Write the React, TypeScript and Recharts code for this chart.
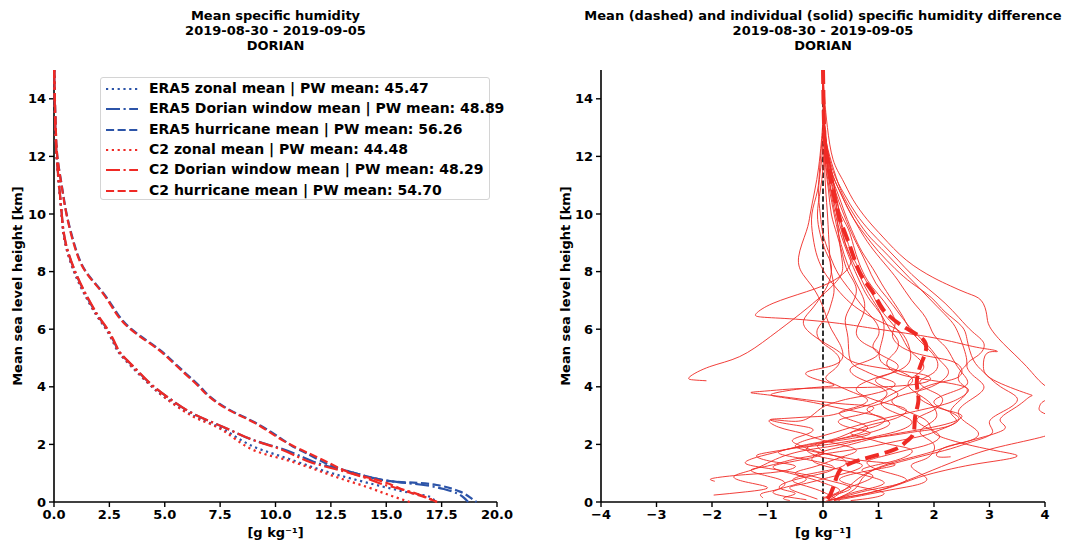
import React from 'react';
import { ScatterChart, Scatter, XAxis, YAxis, ReferenceLine } from 'recharts';

type Pt = [number, number];

const FONT = '"DejaVu Sans", Verdana, sans-serif';
const BLUE = '#2c54a8';
const RED = '#ef2a25';

// ---------- left panel: mean specific humidity [g/kg] vs height [km] ----------
const era5Zonal: Pt[] = [[0.01,15],[0.03,14],[0.06,13],[0.12,12],[0.22,11],[0.34,10],[0.5,9],[0.9,8],[1.35,7.25],[1.9,6.5],[2.35,6],[2.7,5.5],[2.95,5.16],[3.5,4.7],[4.25,4.12],[4.95,3.66],[5.85,3.19],[6.7,2.85],[7.7,2.5],[8.85,1.98],[10.2,1.6],[11.6,1.23],[13.0,0.9],[14.87,0.53],[16.2,0.3],[16.97,0.18],[17.2,0]];
const era5Window: Pt[] = [[0.01,15],[0.03,14],[0.06,13],[0.12,12],[0.23,11],[0.35,10],[0.52,9],[0.95,8],[1.4,7.25],[1.95,6.5],[2.4,6],[2.75,5.5],[3.0,5.16],[3.58,4.7],[4.33,4.12],[5.09,3.66],[5.99,3.19],[6.89,2.85],[7.95,2.5],[9.0,2.15],[10.2,1.87],[11.2,1.57],[11.9,1.35],[12.6,1.2],[13.6,1.0],[14.87,0.76],[16.6,0.6],[17.6,0.45],[18.2,0.3],[18.5,0.15],[18.7,0]];
const era5Hurricane: Pt[] = [[0.01,15],[0.04,14],[0.08,13],[0.15,12],[0.35,11],[0.57,10],[0.95,8.87],[1.44,8],[2.23,7.25],[2.9,6.5],[3.5,6],[4.2,5.6],[4.75,5.3],[5.2,5],[5.9,4.5],[6.6,4],[7.04,3.66],[7.95,3.19],[9.15,2.73],[10.35,2.15],[10.8,1.92],[11.4,1.69],[12.46,1.28],[13.6,1.0],[14.87,0.76],[16.0,0.68],[17.28,0.59],[18.33,0.36],[18.8,0.15],[19.08,0]];
const c2Zonal: Pt[] = [[0.01,15],[0.03,14],[0.06,13],[0.12,12],[0.22,11],[0.34,10],[0.5,9],[0.92,8],[1.37,7.25],[1.92,6.5],[2.37,6],[2.72,5.5],[2.97,5.16],[3.52,4.7],[4.27,4.12],[4.95,3.66],[5.8,3.19],[6.6,2.85],[7.6,2.5],[8.85,1.86],[10.3,1.5],[11.86,1.11],[13.0,0.8],[14.1,0.53],[15.1,0.25],[16.07,0]];
const c2Window: Pt[] = [[0.01,15],[0.03,14],[0.06,13],[0.12,12],[0.23,11],[0.35,10],[0.53,9],[0.96,8],[1.42,7.25],[1.97,6.5],[2.42,6],[2.77,5.5],[3.02,5.16],[3.6,4.7],[4.35,4.12],[5.1,3.66],[6.0,3.19],[6.9,2.85],[7.95,2.5],[9.0,2.15],[10.1,1.87],[11.0,1.57],[11.7,1.35],[12.9,1.1],[14.2,0.8],[14.9,0.6],[15.8,0.42],[16.5,0.25],[17.0,0.1],[17.3,0]];
const c2Hurricane: Pt[] = [[0.01,15],[0.04,14],[0.08,13],[0.15,12],[0.34,11],[0.56,10],[0.93,8.87],[1.42,8],[2.2,7.25],[2.85,6.5],[3.45,6],[4.15,5.6],[4.7,5.3],[5.15,5],[5.85,4.5],[6.55,4],[7.0,3.66],[7.9,3.19],[9.1,2.73],[10.3,2.15],[11.5,1.69],[12.3,1.4],[13.06,1.11],[13.9,0.9],[14.87,0.7],[15.77,0.42],[16.2,0.3],[16.8,0.15],[17.3,0]];

const leftLabels = [
  'ERA5 zonal mean | PW mean: 45.47',
  'ERA5 Dorian window mean | PW mean: 48.89',
  'ERA5 hurricane mean | PW mean: 56.26',
  'C2 zonal mean | PW mean: 44.48',
  'C2 Dorian window mean | PW mean: 48.29',
  'C2 hurricane mean | PW mean: 54.70',
];
const leftData = [era5Zonal, era5Window, era5Hurricane, c2Zonal, c2Window, c2Hurricane];
const leftColors = [BLUE, BLUE, BLUE, RED, RED, RED];
const leftDashes = ['2.2 3.6', '14 3.5 2.2 3.5', '8.1 3.5', '2.2 3.6', '14 3.5 2.2 3.5', '8.1 3.5'];

const leftXTicks = [0, 2.5, 5, 7.5, 10, 12.5, 15, 17.5, 20];
const rightXTicks = [-4, -3, -2, -1, 0, 1, 2, 3, 4];
const yTicks = [0, 2, 4, 6, 8, 10, 12, 14];

// ---------- right panel: specific humidity difference [g/kg] vs height [km] ----------
const diffMean: Pt[] = [[0,15],[0.02,13.03],[0.07,11.88],[0.19,10.72],[0.31,9.79],[0.49,8.86],[0.67,7.94],[0.91,7.25],[1.09,6.67],[1.45,6.09],[1.81,5.63],[1.84,5.16],[1.75,4.7],[1.69,4.12],[1.72,3.54],[1.66,2.96],[1.63,2.38],[1.5,2.1],[1.27,1.81],[0.67,1.46],[0.31,1.11],[0.19,0.53],[0.07,0.07],[0,0]];

const diff01: Pt[] = [[0,15],[0.03,13],[0.1,12],[0.2,11],[0.25,10],[0.3,9],[0.35,8.3],[0.3,7.8],[0,7.2],[-0.4,6.55],[-0.95,5.74],[-1.5,5.05],[-2.04,4.7],[-2.4,4.35],[-2.34,4.24],[-2.1,4.21]];
const diff02: Pt[] = [[0,15],[0.03,13],[0.1,12],[0.2,11],[0.3,10],[0.4,9],[0.5,8.3],[0.2,7.7],[-0.3,7.3],[-0.9,6.9],[-1.2,6.55],[-1.1,6.42],[-0.5,6.35],[0.3,6.2],[1.0,6.0],[2.0,5.7],[2.7,5.4],[3.06,5.28],[3.13,5.22],[2.95,5.16],[2.89,4.7],[3.07,4.24],[3.67,3.77],[3.73,3.66],[3.49,3.31],[3.19,2.85],[3.25,2.5],[2.47,2.04],[1.87,1.69],[1.4,1.45],[1.0,1.2],[0.7,0.9],[0.5,0.6],[0.3,0.3],[0.1,0.05]];
const diff03: Pt[] = [[0,15],[0.03,14],[0.08,13],[0.18,11.9],[0.35,11.2],[0.54,10.5],[0.8,9.8],[1.08,9.2],[1.5,8.4],[1.98,7.8],[2.3,7.5],[2.6,7.25],[2.85,7.0],[2.95,6.5],[3.0,6.1],[3.25,5.5],[3.67,4.7],[4.03,4.0],[4.3,3.75],[4.02,3.54],[3.9,3.31],[3.97,3.09],[4.3,2.8],[4.2,2.5],[3.97,2.27],[3.19,1.92],[2.59,1.57],[1.98,1.11],[1.39,0.65],[0.79,0.3],[0.18,0.1],[0.05,0]];
const diff04: Pt[] = [[0,15],[0.02,13.5],[0.05,12.5],[0.15,11.5],[0.3,10.8],[0.5,10],[0.75,9.3],[1.0,8.7],[1.3,8.1],[1.6,7.6],[1.95,7.1],[2.2,6.6],[2.5,6.1],[2.6,5.6],[2.71,4.93],[2.9,4.5],[3.2,4.0],[3.5,3.6],[3.3,3.2],[3.0,2.8],[3.05,2.4],[2.7,2.1],[2.3,1.85],[1.8,1.6],[1.3,1.35],[0.9,1.1],[0.7,0.8],[0.6,0.5],[0.4,0.25],[0.2,0.08]];
const diff05: Pt[] = [[0,15],[0.02,13.5],[0.06,12.5],[0.2,11.5],[0.35,10.7],[0.55,10],[0.8,9.3],[1.05,8.8],[1.3,8.3],[1.55,7.8],[1.8,7.3],[2.05,6.8],[2.3,6.3],[2.45,5.8],[2.59,4.93],[2.5,4.6],[2.45,4.2],[2.6,3.9],[2.45,3.5],[2.3,3.1],[2.4,2.8],[2.1,2.5],[1.8,2.3],[1.3,2.1],[0.8,1.9],[0.3,1.75],[-0.2,1.6],[-0.6,1.45],[-1.0,1.25],[-1.3,1.1],[-1.0,0.9],[-0.7,0.7],[-0.8,0.45],[-1.1,0.3],[-1.08,0.14]];
const diff06: Pt[] = [[0,15],[0.02,13.5],[0.05,12.5],[0.15,11.5],[0.3,10.8],[0.45,10.2],[0.65,9.5],[0.85,8.9],[1.1,8.3],[1.35,7.7],[1.6,7.0],[1.85,6.4],[2.0,5.8],[2.2,5.4],[2.35,4.93],[2.5,4.5],[2.6,4.1],[2.3,3.8],[2.0,3.5],[2.2,3.2],[2.45,2.9],[2.2,2.6],[1.7,2.45],[1.2,2.3],[0.6,2.15],[0.1,2.0],[-0.4,1.9],[-0.9,1.75],[-1.2,1.6],[-0.9,1.4],[-0.5,1.25],[-0.8,1.05],[-1.4,0.95],[-1.9,0.85],[-2.03,0.78],[-1.95,0.72]];
const diff07: Pt[] = [[0,15],[0.02,13.5],[0.05,12.5],[0.12,11.5],[0.25,10.8],[0.4,10],[0.55,9.3],[0.7,8.7],[0.9,8.1],[1.05,7.6],[1.25,7.0],[1.45,6.4],[1.6,5.9],[1.85,5.4],[2.05,4.93],[2.0,4.5],[1.75,4.2],[1.9,3.9],[2.15,3.6],[2.0,3.2],[1.7,2.9],[1.85,2.6],[2.1,2.3],[1.9,2.0],[1.5,1.8],[1.1,1.6],[0.8,1.4],[0.95,1.15],[1.3,0.95],[1.5,0.75],[1.2,0.55],[0.8,0.4],[0.4,0.2],[0.1,0.05]];
const diff08: Pt[] = [[0,15],[0.02,13.5],[0.04,12.5],[0.08,11.6],[0.15,10.8],[0.25,10],[0.35,9.3],[0.45,8.7],[0.6,8.1],[0.75,7.5],[0.9,7.0],[1.05,6.5],[1.1,6.0],[1.05,5.5],[1.03,4.93],[1.3,4.6],[1.6,4.3],[1.5,4.0],[1.2,3.7],[1.05,3.4],[1.3,3.1],[1.6,2.8],[1.4,2.5],[1.0,2.3],[0.55,2.1],[0.2,1.95],[-0.3,1.8],[-0.7,1.6],[-1.0,1.35],[-1.3,1.1],[-1.6,0.9],[-1.4,0.7],[-1.0,0.5],[-1.4,0.35],[-1.97,0.24]];
const diff09: Pt[] = [[0,15],[0.01,13.5],[0.03,12.5],[0.05,11.6],[0.1,10.8],[0.15,10],[0.25,9.3],[0.35,8.6],[0.45,8.0],[0.6,7.4],[0.5,6.8],[0.4,6.3],[0.45,5.7],[0.49,4.93],[0.7,4.6],[1.0,4.35],[1.3,4.1],[1.0,3.8],[0.5,3.6],[0.2,3.45],[0.0,3.3],[-0.2,3.0],[-0.5,2.8],[-0.95,2.85],[-0.8,2.6],[-0.4,2.4],[-0.1,2.2],[0.3,2.0],[0.6,1.8],[0.4,1.6],[0.1,1.4],[-0.2,1.2],[-0.5,1.0],[-0.3,0.8],[-0.6,0.55],[-0.9,0.35],[-0.7,0.2],[-0.3,0.08]];
const diff10: Pt[] = [[0,15],[0.0,13.5],[-0.03,12.5],[-0.08,11.6],[-0.15,10.8],[-0.23,10],[-0.3,9.4],[-0.44,8.5],[-0.36,7.9],[-0.2,7.5],[-0.05,7.0],[0.05,6.5],[0.15,6.0],[0.3,5.5],[0.35,5.0],[0.1,4.7],[-0.3,4.5],[-0.1,4.25],[0.2,4.05],[-0.3,3.95],[-0.89,3.77],[-0.8,3.65],[-0.3,3.5],[0.2,3.3],[0.7,3.1],[1.1,2.9],[0.9,2.6],[0.5,2.4],[0.8,2.2],[1.2,2.0],[1.6,1.8],[1.4,1.5],[1.0,1.3],[0.7,1.1],[0.9,0.9],[0.6,0.6],[0.3,0.35],[0.1,0.1]];
const diff11: Pt[] = [[0,15],[0.01,13.5],[-0.02,12.5],[-0.06,11.6],[-0.1,10.8],[-0.2,10],[-0.18,9.2],[-0.1,8.5],[0.05,7.9],[0.25,7.4],[0.5,6.9],[0.8,6.5],[1.1,6.2],[1.4,5.9],[1.55,5.4],[1.57,4.93],[1.4,4.6],[1.1,4.4],[0.8,4.2],[0.6,3.9],[0.85,3.6],[1.2,3.4],[1.5,3.2],[1.3,2.9],[0.9,2.7],[0.6,2.5],[0.3,2.25],[0.0,2.1],[-0.4,1.95],[-0.8,1.75],[-1.2,1.55],[-1.4,1.35],[-1.1,1.2],[-0.6,1.05],[-0.2,0.9],[0.2,0.7],[0.5,0.5],[0.3,0.3],[0.0,0.15]];
const diff12: Pt[] = [[0,15],[0.02,13.5],[0.06,12.5],[0.18,11.5],[0.38,10.7],[0.6,10],[0.85,9.4],[1.1,8.9],[1.35,8.4],[1.6,7.9],[1.9,7.4],[2.2,6.9],[2.45,6.4],[2.7,5.9],[2.9,5.5],[2.8,5.1],[2.6,4.8],[2.7,4.4],[2.9,4.0],[2.7,3.6],[2.45,3.2],[2.55,2.8],[2.8,2.4],[2.6,2.1],[2.2,1.9],[2.05,1.6],[2.3,1.57]];
const diff13: Pt[] = [[0,15],[0.01,13.5],[0.02,12.5],[0.0,11.6],[-0.05,10.8],[-0.1,10],[-0.05,9.3],[0.05,8.7],[0.15,8.2],[0.1,7.6],[-0.05,7.1],[-0.2,6.7],[-0.35,6.3],[-0.25,5.9],[0.05,5.5],[0.3,5.2],[0.5,4.9],[0.9,4.7],[1.4,4.55],[1.85,4.4],[1.9,4.2],[1.5,4.05],[0.8,3.98],[0.0,3.96],[-0.6,3.92],[-1.05,3.85],[-1.3,3.8],[-1.0,3.72],[-0.3,3.55],[0.4,3.4],[0.9,3.3],[0.7,3.05],[0.3,2.85],[0.45,2.6],[0.85,2.4],[0.5,2.2],[0.0,2.05],[-0.3,1.85],[-0.1,1.6],[0.3,1.45],[0.7,1.3],[0.5,1.05],[0.1,0.85],[-0.3,0.65],[-0.6,0.5],[-0.4,0.3],[-0.1,0.1]];
const diff14: Pt[] = [[0,15],[0.02,13.5],[0.04,12.5],[0.1,11.5],[0.2,10.8],[0.3,10.1],[0.45,9.5],[0.55,8.9],[0.65,8.3],[0.8,7.7],[1.0,7.2],[1.2,6.7],[1.3,6.2],[1.25,5.8],[1.4,5.4],[1.8,5.1],[2.3,4.9],[2.5,4.6],[2.4,4.3],[2.0,4.1],[1.7,3.8],[1.85,3.45],[2.2,3.2],[2.5,3.0],[2.3,2.75],[1.85,2.55],[1.4,2.4],[1.0,2.25],[0.6,2.05],[0.3,1.9],[0.0,1.75],[-0.2,1.5],[-0.05,1.3],[0.25,1.15],[0.6,1.0],[0.9,0.85],[1.1,0.65],[0.8,0.45],[0.5,0.3],[0.3,0.15],[0.2,0.05]];
const diff15: Pt[] = [[0,15],[0.02,13.5],[0.05,12.5],[0.12,11.6],[0.22,10.8],[0.35,10.1],[0.5,9.4],[0.65,8.8],[0.8,8.2],[0.95,7.6],[1.15,7.1],[1.35,6.6],[1.55,6.1],[1.75,5.7],[1.95,5.3],[2.1,4.93],[2.25,4.6],[2.2,4.3],[1.95,4.0],[1.6,3.8],[1.25,3.55],[1.4,3.25],[1.7,3.0],[1.9,2.75],[2.0,2.4],[2.3,2.15],[2.7,1.95],[3.2,1.75],[3.5,1.6],[3.2,1.45],[2.7,1.3],[2.2,1.1],[1.8,0.9],[1.5,0.7],[1.2,0.5],[0.8,0.3],[0.4,0.15],[0.1,0.05]];
const diff16: Pt[] = [[0,15],[0.01,13.5],[0.03,12.5],[0.06,11.6],[0.12,10.8],[0.2,10],[0.28,9.3],[0.38,8.6],[0.5,8.0],[0.65,7.4],[0.75,6.9],[0.7,6.4],[0.6,5.9],[0.75,5.5],[1.0,5.2],[0.8,4.9],[0.5,4.65],[0.6,4.35],[0.9,4.1],[1.15,3.8],[1.0,3.5],[0.7,3.3],[0.4,3.15],[0.1,3.0],[-0.3,2.95],[-0.7,2.9],[-0.95,2.85],[-0.6,2.7],[-0.2,2.55],[-0.3,2.35],[-0.55,2.15],[-0.4,1.95],[-0.1,1.75],[0.3,1.55],[0.4,1.3],[0.1,1.1],[-0.3,0.95],[-0.55,0.75],[-0.3,0.55],[0.0,0.35],[0.2,0.15],[0.3,0.05]];
const diff17: Pt[] = [[0,15],[0.02,13.5],[0.05,12.5],[0.1,11.6],[0.18,10.8],[0.28,10],[0.4,9.3],[0.52,8.6],[0.68,8.0],[0.85,7.4],[1.0,6.8],[1.2,6.3],[1.4,5.8],[1.55,5.3],[1.75,4.93],[1.8,4.6],[1.6,4.3],[1.55,4.0],[1.75,3.7],[1.95,3.4],[2.05,3.0],[1.9,2.7],[1.75,2.4],[1.95,2.1],[2.0,1.8],[1.85,1.5],[1.6,1.3],[1.7,1.05],[1.87,0.8],[1.7,0.6],[1.3,0.45],[0.9,0.3],[0.5,0.15],[0.2,0.05]];
const diff18: Pt[] = [[0,15],[0.01,13.5],[0.0,12.5],[-0.04,11.6],[-0.08,10.8],[-0.05,10],[0.0,9.3],[0.1,8.7],[0.2,8.2],[0.35,7.7],[0.55,7.2],[0.75,6.7],[0.95,6.25],[1.0,5.8],[0.9,5.4],[1.1,5.05],[1.35,4.75],[1.2,4.45],[0.95,4.25],[1.1,4.0],[1.35,3.75],[1.1,3.45],[0.8,3.25],[0.95,3.0],[1.2,2.75],[1.0,2.5],[0.6,2.3],[0.2,2.15],[-0.2,2.0],[-0.6,1.85],[-0.8,1.7],[-0.5,1.55],[-0.1,1.4],[0.2,1.2],[0.0,1.0],[-0.35,0.85],[-0.7,0.65],[-0.75,0.45],[-0.5,0.3],[-0.7,0.15],[-0.6,0.05]];
const diff19: Pt[] = [[0,15],[0.02,13.5],[0.04,12.5],[0.08,11.6],[0.14,10.8],[0.22,10],[0.32,9.3],[0.45,8.6],[0.58,8.0],[0.7,7.5],[0.85,7.0],[1.05,6.5],[1.2,6.0],[1.35,5.6],[1.3,5.2],[1.15,4.85],[1.3,4.5],[1.7,4.3],[2.2,4.15],[2.55,4.0],[2.6,3.8],[2.35,3.5],[2.0,3.3],[1.55,3.1],[1.1,2.9],[0.7,2.7],[0.35,2.5],[0.0,2.3],[-0.3,2.15],[-0.5,1.95],[-0.3,1.8],[0.1,1.65],[0.5,1.5],[0.9,1.4],[1.3,1.3],[1.0,1.15],[0.6,1.0],[0.3,0.8],[0.5,0.6],[0.85,0.45],[1.1,0.3],[0.9,0.15],[0.5,0.05]];
const diff20: Pt[] = [[0,15],[0.01,13.5],[0.02,12.5],[0.03,11.6],[0.05,10.8],[0.08,10],[0.1,9.3],[0.12,8.6],[0.15,8.0],[0.2,7.4],[0.15,6.9],[0.05,6.4],[-0.1,6.0],[-0.05,5.6],[0.15,5.3],[0.3,4.95],[0.2,4.6],[0.05,4.3],[0.25,4.05],[0.55,3.8],[0.8,3.55],[0.6,3.3],[0.3,3.1],[0.5,2.85],[0.8,2.6],[0.6,2.35],[0.2,2.15],[-0.1,1.95],[0.0,1.7],[-0.3,1.5],[-0.7,1.35],[-0.9,1.2],[-0.6,1.0],[-0.2,0.8],[0.1,0.6],[0.3,0.4],[0.1,0.2],[0.0,0.05]];

const diffProfiles = [diff01, diff02, diff03, diff04, diff05, diff06, diff07, diff08, diff09, diff10, diff11, diff12, diff13, diff14, diff15, diff16, diff17, diff18, diff19, diff20];

const toXY = (p: Pt[]) => p.map(([x, y]) => ({ x, y }));
const Empty = () => <g />;

const tickStyle = { fill: '#000', fontSize: 13, fontWeight: 'bold' as const, fontFamily: FONT };
const axisLineStyle = { stroke: '#000', strokeWidth: 1.6 };
const tickLineStyle = { stroke: '#000', strokeWidth: 1.4 };
const fmtMinus = (v: number) => (v < 0 ? `\u2212${-v}` : `${v}`);

function LeftChart() {
  return (
    <ScatterChart width={540} height={544} margin={{ top: 70, right: 43, bottom: 12, left: 14 }}>
      <XAxis xAxisId="b" type="number" dataKey="x" domain={[0, 20]} ticks={leftXTicks} tickFormatter={(v: number) => v.toFixed(1)}
        height={30} tick={tickStyle} axisLine={axisLineStyle} tickLine={tickLineStyle} tickSize={5} tickMargin={3} interval={0} />
      <XAxis xAxisId="t" orientation="top" type="number" domain={[0, 20]} tick={false} tickLine={false} height={0} axisLine={axisLineStyle} />
      <YAxis yAxisId="l" type="number" dataKey="y" domain={[0, 15]} ticks={yTicks} width={40} tick={tickStyle}
        axisLine={axisLineStyle} tickLine={tickLineStyle} tickSize={5} tickMargin={3} interval={0} />
      <YAxis yAxisId="r" orientation="right" type="number" domain={[0, 15]} tick={false} tickLine={false} width={0} axisLine={axisLineStyle} />
      {leftData.map((d, i) => (
        <Scatter key={i} xAxisId="b" yAxisId="l" data={toXY(d)} fill={leftColors[i]} shape={Empty} isAnimationActive={false}
          lineJointType="natural" line={{ stroke: leftColors[i], strokeWidth: 2.2, strokeDasharray: leftDashes[i] }} />
      ))}
    </ScatterChart>
  );
}

function RightChart() {
  return (
    <ScatterChart width={527} height={544} margin={{ top: 70, right: 29, bottom: 12, left: 14 }}>
      <XAxis xAxisId="b" type="number" dataKey="x" domain={[-4, 4]} allowDataOverflow ticks={rightXTicks} tickFormatter={fmtMinus}
        height={30} tick={tickStyle} axisLine={axisLineStyle} tickLine={tickLineStyle} tickSize={5} tickMargin={3} interval={0} />
      <XAxis xAxisId="t" orientation="top" type="number" domain={[-4, 4]} allowDataOverflow tick={false} tickLine={false} height={0} axisLine={axisLineStyle} />
      <YAxis yAxisId="l" type="number" dataKey="y" domain={[0, 15]} allowDataOverflow ticks={yTicks} width={40} tick={tickStyle}
        axisLine={axisLineStyle} tickLine={tickLineStyle} tickSize={5} tickMargin={3} interval={0} />
      <YAxis yAxisId="r" orientation="right" type="number" domain={[0, 15]} tick={false} tickLine={false} width={0} axisLine={axisLineStyle} />
      {diffProfiles.map((d, i) => (
        <Scatter key={i} xAxisId="b" yAxisId="l" data={toXY(d)} fill={RED} shape={Empty} isAnimationActive={false}
          lineJointType="natural" line={{ stroke: RED, strokeWidth: 1, strokeOpacity: 0.9 }} />
      ))}
      <ReferenceLine xAxisId="b" yAxisId="l" x={0} stroke="#000" strokeWidth={1.6} strokeDasharray="5.5 2.4" />
      <Scatter xAxisId="b" yAxisId="l" data={toXY(diffMean)} fill={RED} shape={Empty} isAnimationActive={false}
        lineJointType="natural" line={{ stroke: RED, strokeWidth: 4, strokeDasharray: '14 6' }} />
    </ScatterChart>
  );
}

const textBase: React.CSSProperties = { position: 'absolute', fontFamily: FONT, fontWeight: 'bold', fontSize: 13, color: '#000', whiteSpace: 'nowrap' };

function Title({ cx, lines }: { cx: number; lines: string[] }) {
  return (
    <div style={{ ...textBase, left: cx - 300, width: 600, top: 8, textAlign: 'center', lineHeight: '15px' }}>
      {lines.map((l, i) => <div key={i}>{l}</div>)}
    </div>
  );
}

function YLabel({ cx }: { cx: number }) {
  return (
    <div style={{ ...textBase, left: cx - 150, top: 286 - 8, width: 300, height: 16, lineHeight: '16px', textAlign: 'center', transform: 'rotate(-90deg)' }}>
      Mean sea level height [km]
    </div>
  );
}

function XLabel({ cx }: { cx: number }) {
  return (
    <div style={{ ...textBase, left: cx - 60, top: 525, width: 120, lineHeight: '16px', textAlign: 'center' }}>
      [g kg⁻¹]
    </div>
  );
}

function LeftLegend() {
  return (
    <div style={{ position: 'absolute', left: 100, top: 77, width: 390, height: 123, border: '1px solid #d4d4d4', borderRadius: 3, background: 'rgba(255,255,255,0.85)', boxSizing: 'border-box' }}>
      {leftLabels.map((lab, i) => (
        <div key={i} style={{ position: 'absolute', left: 0, top: 1 + i * 20.3, height: 20, width: 388 }}>
          <svg width={36} height={20} style={{ position: 'absolute', left: 4, top: 0 }}>
            <line x1={1} y1={10} x2={33} y2={10} stroke={leftColors[i]} strokeWidth={2.2} strokeDasharray={leftDashes[i]} />
          </svg>
          <div style={{ ...textBase, fontSize: 14, left: 48, top: 1, lineHeight: '17px' }}>{lab}</div>
        </div>
      ))}
    </div>
  );
}

export default function App() {
  return (
    <div style={{ position: 'absolute', left: 0, top: 0, width: 1074, height: 544, background: '#fff', overflow: 'hidden' }}>
      <div style={{ position: 'absolute', left: 0, top: 0 }}>
        <LeftChart />
      </div>
      <div style={{ position: 'absolute', left: 547, top: 0 }}>
        <RightChart />
      </div>
      <Title cx={275.5} lines={['Mean specific humidity', '2019-08-30 - 2019-09-05', 'DORIAN']} />
      <Title cx={823} lines={['Mean (dashed) and individual (solid) specific humidity difference', '2019-08-30 - 2019-09-05', 'DORIAN']} />
      <YLabel cx={18} />
      <YLabel cx={566} />
      <XLabel cx={275.5} />
      <XLabel cx={823} />
      <LeftLegend />
    </div>
  );
}
